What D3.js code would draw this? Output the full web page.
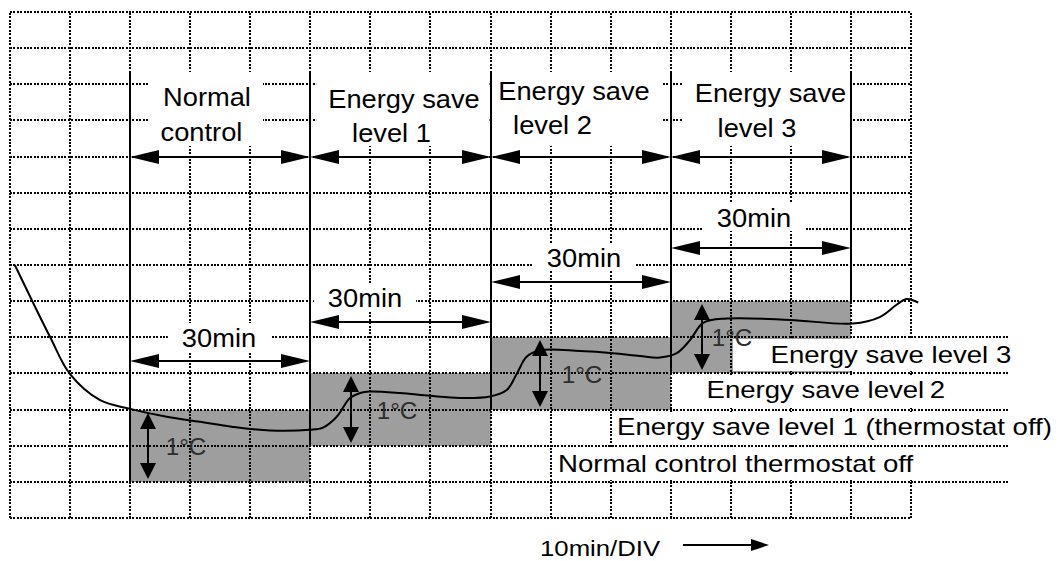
<!DOCTYPE html>
<html>
<head>
<meta charset="utf-8">
<script src="https://cdn.jsdelivr.net/npm/d3@7"></script>
<style>
  html, body { margin: 0; padding: 0; background: #fff; }
  svg { display: block; font-family: "Liberation Sans", Arial, Helvetica, sans-serif; }
</style>
</head>
<body>
<svg id="chart" width="1063" height="561"></svg>
<script>
// Time axis: minutes, one division = 10 min
const xTicks = d3.range(0, 151, 10);
// Temperature axis: degrees above an arbitrary reference, one division = 0.5 °C
const yTicks = d3.range(0, 7.001, 0.5);

// Control phases
const phaseTitleLines = [["Normal", "control"], ["Energy save", "level 1"], ["Energy save", "level 2"], ["Energy save", "level 3"]];
const phaseStart = [20, 50, 80, 110];
const phaseEnd = [50, 80, 110, 140];
const phaseDurationLabel = ["30min", "30min", "30min", "30min"];

// Thermostat-off bands for each phase (°C)
const bandLow = [0.5, 1.0, 1.5, 2.0];
const bandHigh = [1.5, 2.0, 2.5, 3.0];
const bandLabel = ["1°C", "1°C", "1°C", "1°C"];

// Thermostat-off lines named at the right
const offLineNames = ["Energy save level 3", "Energy save level\u20092", "Energy save level 1 (thermostat off)", "Normal control thermostat off"];
const offLineUpper = [2.5, 2.0, 1.5, 1.0];
const offLineLower = [2.0, 1.5, 1.0, 0.5];

// Room temperature trace
const tempMin = [0.8, 3.6, 6.7, 10.0, 15.0, 20.0, 26.1, 31.6, 37.1, 43.3, 49.9, 52.1, 54.4, 56.6, 58.3, 59.9, 64.9, 69.9, 74.9, 79.9, 82.7, 84.4, 86.0, 88.2, 94.9, 100.4, 104.9, 108.2, 111.0, 113.2, 115.4, 119.3, 129.9, 140.3, 144.8, 147.6, 149.3, 151.2];
const tempC = [3.50, 3.02, 2.50, 1.99, 1.63, 1.51, 1.40, 1.33, 1.26, 1.21, 1.22, 1.25, 1.40, 1.66, 1.73, 1.75, 1.73, 1.69, 1.66, 1.68, 1.77, 2.00, 2.23, 2.32, 2.31, 2.28, 2.24, 2.22, 2.28, 2.46, 2.70, 2.76, 2.74, 2.69, 2.78, 2.95, 3.03, 2.98];

const scaleCaption = "10min/DIV";

// Placement of annotations (pixels)
const layout = {
  plot: { left: 10, right: 911, top: 12, bottom: 518 },
  titleBoxTop: 72, titleBoxBottom: 146,
  titleArrowLevel: 5.0,
  titleLines: [
    [{ x: 207, y: 106 }, { x: 201.5, y: 141 }],
    [{ x: 404, y: 108 }, { x: 391.5, y: 142 }],
    [{ x: 574, y: 100 }, { x: 552.5, y: 134 }],
    [{ x: 770.5, y: 102 }, { x: 757, y: 137 }]
  ],
  durArrowY: [361, 322, 282, 248],
  durTextY: [347, 307, 267, 227],
  durTextX: [219, 365, 584, 754],
  bandArrowX: [148, 351, 540, 702],
  bandTextX: [186, 397, 582, 732],
  offTextX: [770.5, 706.5, 617, 558],
  offTextY: [363, 398, 435, 472],
  offBoxLeft: [733, 673, 613, 553],
  offLineEnd: 1008,
  caption: { x: 540, y: 556 },
  captionArrow: { x1: 683, x2: 769, y: 545 }
};

const svg = d3.select("#chart");
const P = layout.plot;
const x = d3.scaleLinear().domain([0, 150]).range([P.left, P.right]);
const y = d3.scaleLinear().domain([0, 7]).range([P.bottom, P.top]);
// pixel-snapped copies for the dotted grid so the dots stay crisp
const xg = x.copy().interpolate(d3.interpolateRound);
const yg = y.copy().interpolate(d3.interpolateRound);

const GRAY = "#9e9e9e";
const DOT = { width: 2, dash: "2 1.4" };

function addText(parent, str, tx, ty, size, sx, anchor, fill) {
  return parent.append("text")
    .attr("transform", `translate(${tx},${ty}) scale(${sx},1)`)
    .attr("text-anchor", anchor)
    .attr("font-size", size)
    .attr("fill", fill || "#000")
    .text(str);
}

function hArrow(parent, x1, x2, yy, len, half) {
  parent.append("line").attr("x1", x1 + 4).attr("x2", x2 - 4).attr("y1", yy).attr("y2", yy)
    .attr("stroke", "#000").attr("stroke-width", 2);
  parent.append("path").attr("d", `M${x1},${yy}L${x1 + len},${yy - half}L${x1 + len},${yy + half}Z`).attr("fill", "#000");
  parent.append("path").attr("d", `M${x2},${yy}L${x2 - len},${yy - half}L${x2 - len},${yy + half}Z`).attr("fill", "#000");
}

function vArrow(parent, xx, y1, y2, len, half) {
  parent.append("line").attr("x1", xx).attr("x2", xx).attr("y1", y1 + 4).attr("y2", y2 - 4)
    .attr("stroke", "#000").attr("stroke-width", 2);
  parent.append("path").attr("d", `M${xx},${y1}L${xx - half},${y1 + len}L${xx + half},${y1 + len}Z`).attr("fill", "#000");
  parent.append("path").attr("d", `M${xx},${y2}L${xx - half},${y2 - len}L${xx + half},${y2 - len}Z`).attr("fill", "#000");
}

// Shaded thermostat-off bands
svg.append("g").selectAll("rect").data(d3.range(phaseStart.length)).join("rect")
  .attr("x", i => xg(phaseStart[i]))
  .attr("width", i => xg(phaseEnd[i]) - xg(phaseStart[i]))
  .attr("y", i => yg(bandHigh[i]))
  .attr("height", i => yg(bandLow[i]) - yg(bandHigh[i]))
  .attr("fill", GRAY);

// Dotted grid, drawn with the axis generators
const grid = svg.append("g").attr("shape-rendering", "crispEdges");
grid.append("g").attr("transform", `translate(0,${P.bottom})`)
  .call(d3.axisBottom(xg).tickValues(xTicks).tickSize(-(P.bottom - P.top)).tickFormat("").offset(0));
grid.append("g").attr("transform", `translate(${P.left},0)`)
  .call(d3.axisLeft(yg).tickValues(yTicks).tickSize(-(P.right - P.left)).tickFormat("").offset(0));
grid.selectAll(".domain").remove();
grid.selectAll(".tick line").attr("stroke", "#000").attr("stroke-width", DOT.width).attr("stroke-dasharray", DOT.dash);

// Thermostat-off lines carried out to the right-hand labels
const offLevels = Array.from(new Set(offLineUpper.concat(offLineLower)));
svg.append("g").attr("shape-rendering", "crispEdges").selectAll("line").data(offLevels).join("line")
  .attr("x1", P.right).attr("x2", layout.offLineEnd)
  .attr("y1", d => yg(d)).attr("y2", d => yg(d))
  .attr("stroke", "#000").attr("stroke-width", DOT.width).attr("stroke-dasharray", DOT.dash);

// Right-hand label backgrounds
const offG = svg.append("g");
offLineNames.forEach((name, i) => {
  offG.append("rect")
    .attr("x", layout.offBoxLeft[i])
    .attr("width", layout.offLineEnd - layout.offBoxLeft[i])
    .attr("y", yg(offLineUpper[i]) + 2)
    .attr("height", yg(offLineLower[i]) - yg(offLineUpper[i]) - 4)
    .attr("fill", "#fff");
});

// Temperature trace
const line = d3.line().x(d => x(d[0])).y(d => y(d[1])).curve(d3.curveCatmullRom.alpha(0.5));
svg.append("path")
  .datum(tempMin.map((m, i) => [m, tempC[i]]))
  .attr("d", line)
  .attr("fill", "none").attr("stroke", "#000").attr("stroke-width", 2);

// Phase titles with their white backgrounds
const titleG = svg.append("g");
phaseTitleLines.forEach((lines, i) => {
  const bg = titleG.append("rect").attr("fill", "#fff");
  let lo = Infinity, hi = -Infinity;
  lines.forEach((s, j) => {
    const pos = layout.titleLines[i][j];
    const t = addText(titleG, s, pos.x, pos.y, 25.5, 1.07, "middle");
    const w = t.node().getComputedTextLength() * 1.07;
    lo = Math.min(lo, pos.x - w / 2);
    hi = Math.max(hi, pos.x + w / 2);
  });
  const bx0 = Math.max(xg(phaseStart[i]) + 1.5, lo - 12);
  const bx1 = Math.min(xg(phaseEnd[i]) - 1.5, hi + 12);
  bg.attr("x", bx0).attr("width", bx1 - bx0)
    .attr("y", layout.titleBoxTop).attr("height", layout.titleBoxBottom - layout.titleBoxTop);
});

// Phase boundaries and phase arrows
const boundG = svg.append("g");
phaseStart.forEach((s, i) => {
  boundG.append("line").attr("x1", xg(s)).attr("x2", xg(s))
    .attr("y1", layout.titleBoxTop).attr("y2", yg(bandLow[i]))
    .attr("stroke", "#000").attr("stroke-width", 2);
});
const lastEnd = phaseEnd[phaseEnd.length - 1];
boundG.append("line").attr("x1", xg(lastEnd)).attr("x2", xg(lastEnd))
  .attr("y1", layout.titleBoxTop).attr("y2", yg(bandHigh[bandHigh.length - 1]))
  .attr("stroke", "#000").attr("stroke-width", 2);
phaseStart.forEach((s, i) => {
  hArrow(boundG, xg(s), xg(phaseEnd[i]), yg(layout.titleArrowLevel), 29, 7);
});

// 30 min duration arrows
const durG = svg.append("g");
phaseDurationLabel.forEach((lab, i) => {
  const bg = durG.append("rect").attr("fill", "#fff");
  const t = addText(durG, lab, layout.durTextX[i], layout.durTextY[i], 26, 1.05, "middle");
  const w = t.node().getComputedTextLength() * 1.05;
  bg.attr("x", layout.durTextX[i] - w / 2 - 14).attr("width", w + 28)
    .attr("y", layout.durTextY[i] - 24).attr("height", 28);
  hArrow(durG, xg(phaseStart[i]), xg(phaseEnd[i]), layout.durArrowY[i], 29, 7);
});

// Right-hand labels
offLineNames.forEach((name, i) => {
  addText(offG, name, layout.offTextX[i], layout.offTextY[i], 23, 1.2, "start");
});

// 1 °C band arrows
const bandG = svg.append("g");
bandLabel.forEach((lab, i) => {
  vArrow(bandG, layout.bandArrowX[i], yg(bandHigh[i]) + 3, yg(bandLow[i]) - 3, 16, 8);
  addText(bandG, lab, layout.bandTextX[i], (yg(bandHigh[i]) + yg(bandLow[i])) / 2 + 9, 23, 1.05, "middle", "#2e2e2e");
});

// Time-scale caption
const capG = svg.append("g");
addText(capG, scaleCaption, layout.caption.x, layout.caption.y, 23, 1.12, "start");
const ca = layout.captionArrow;
capG.append("line").attr("x1", ca.x1).attr("x2", ca.x2 - 10).attr("y1", ca.y).attr("y2", ca.y)
  .attr("stroke", "#000").attr("stroke-width", 2);
capG.append("path").attr("d", `M${ca.x2},${ca.y}L${ca.x2 - 18},${ca.y - 6}L${ca.x2 - 18},${ca.y + 6}Z`).attr("fill", "#000");
</script>
</body>
</html>
